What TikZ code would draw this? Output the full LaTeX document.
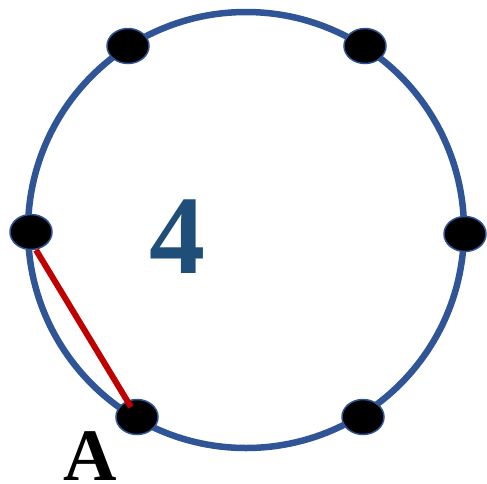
\documentclass[tikz,border=0pt]{standalone}
\usepackage{fontspec}
\setmainfont{Liberation Serif}
\usetikzlibrary{shapes.geometric,calc}
\definecolor{ringblue}{HTML}{2F5597}
\definecolor{numblue}{HTML}{1F4E79}
\definecolor{chordred}{HTML}{C00000}
\begin{document}
\begin{tikzpicture}[x=1pt,y=-1pt,
  dot/.style={ellipse,draw=ringblue,line width=1.5pt,fill=black,minimum width=42pt,minimum height=35pt,inner sep=0pt}]
\useasboundingbox (0,0) rectangle (487,483);
\node[circle,draw=ringblue,line width=6.5pt,minimum size=436pt,inner sep=0pt] (ring) at (246,230) {};
\node[dot] (n1) at (128,46) {};
\node[dot] (n2) at (365,46) {};
\node[dot] (n3) at (31,232) {};
\node[dot] (n4) at (465,234) {};
\node[dot] (n5) at (137,417) {};
\node[dot] (n6) at (363,417) {};
\draw[chordred,line width=6pt] ($(n3.center)+(5,18)$) -- ($(n5.center)+(-6,-10)$);
\node[text=numblue,font=\fontsize{112}{112}\selectfont\bfseries] (num) at (177,237) {4};
\node[font=\fontsize{74}{74}\selectfont\bfseries,inner sep=0pt,anchor=base] (lblA) at (90,480) {A};
\end{tikzpicture}
\end{document}
